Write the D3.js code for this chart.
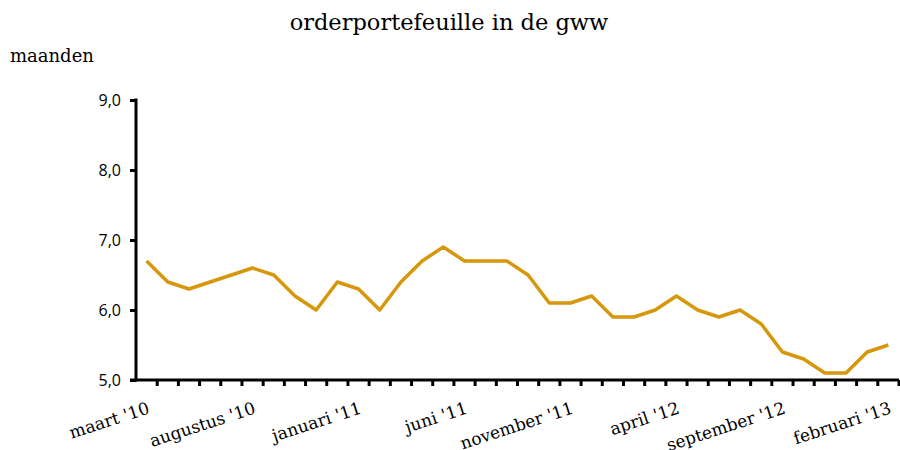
<!DOCTYPE html>
<html>
<head>
<meta charset="utf-8">
<script src="https://cdn.jsdelivr.net/npm/d3@7"></script>
<style>
  body { margin: 0; background: #fff; }
  svg { display: block; }
</style>
</head>
<body>
<div id="chart"></div>
<script>
const months = ["maart '10", "april '10", "mei '10", "juni '10", "juli '10", "augustus '10",
  "september '10", "oktober '10", "november '10", "december '10", "januari '11", "februari '11",
  "maart '11", "april '11", "mei '11", "juni '11", "juli '11", "augustus '11",
  "september '11", "oktober '11", "november '11", "december '11", "januari '12", "februari '12",
  "maart '12", "april '12", "mei '12", "juni '12", "juli '12", "augustus '12",
  "september '12", "oktober '12", "november '12", "december '12", "januari '13", "februari '13"];

const values = [6.7, 6.4, 6.3, 6.4, 6.5, 6.6, 6.5, 6.2, 6.0, 6.4, 6.3, 6.0,
  6.4, 6.7, 6.9, 6.7, 6.7, 6.7, 6.5, 6.1, 6.1, 6.2, 5.9, 5.9,
  6.0, 6.2, 6.0, 5.9, 6.0, 5.8, 5.4, 5.3, 5.1, 5.1, 5.4, 5.5];

const yTicks = [5, 6, 7, 8, 9];

const data = months.map((m, i) => ({ maand: m, waarde: values[i] }));

const margin = {top: 100, right: 1, bottom: 70, left: 136},
      width = 900 - margin.left - margin.right,
      height = 450 - margin.top - margin.bottom;

const root = d3.select("#chart")
  .append("svg")
  .attr("width", 900)
  .attr("height", 450);

root.append("text")
  .attr("x", 449)
  .attr("y", 30)
  .attr("text-anchor", "middle")
  .style("font-family", "'DejaVu Serif', serif")
  .style("font-size", "22.5px")
  .text("orderportefeuille in de gww");

root.append("text")
  .attr("x", 10)
  .attr("y", 62)
  .style("font-family", "'DejaVu Serif', serif")
  .style("font-size", "18px")
  .text("maanden");

const svg = root.append("g")
  .attr("transform", `translate(${margin.left},${margin.top})`);

const x = d3.scaleBand()
  .domain(months)
  .range([0, width]);

const y = d3.scaleLinear()
  .domain([5, 9])
  .range([height, 0]);

// y axis
const yAxis = svg.append("g")
  .call(d3.axisLeft(y)
    .tickValues(yTicks)
    .tickSize(6)
    .tickPadding(9)
    .tickFormat(d => d3.format(".1f")(d).replace(".", ",")));
yAxis.select(".domain").attr("stroke-width", 3).attr("d", `M0,${height + 1.5}V-1.5`);
yAxis.selectAll(".tick line").attr("stroke-width", 3);
yAxis.selectAll(".tick text")
  .style("font-family", "'Open Sans', sans-serif")
  .style("font-size", "16px");

// x axis, ticks on band boundaries
const xAxis = svg.append("g")
  .attr("transform", `translate(0,${height})`);
xAxis.append("line")
  .attr("x1", -6).attr("x2", width)
  .attr("stroke", "#000").attr("stroke-width", 3);
xAxis.selectAll(".btick")
  .data(months)
  .enter()
  .append("line")
  .attr("x1", d => x(d) + x.bandwidth())
  .attr("x2", d => x(d) + x.bandwidth())
  .attr("y1", 0).attr("y2", 6)
  .attr("stroke", "#000").attr("stroke-width", 3);

xAxis.selectAll(".xlabel")
  .data(months.filter((d, i) => i % 5 === 0))
  .enter()
  .append("text")
  .attr("transform", d => `translate(${x(d) + x.bandwidth() / 2 + 4},${33}) rotate(-18)`)
  .attr("text-anchor", "end")
  .style("font-family", "'DejaVu Serif', serif")
  .style("font-size", "17px")
  .text(d => d);

// line
const line = d3.line()
  .x(d => x(d.maand) + x.bandwidth() / 2)
  .y(d => y(d.waarde));

svg.append("path")
  .datum(data)
  .attr("fill", "none")
  .attr("stroke", "#d6970b")
  .attr("stroke-width", 3.5)
  .attr("stroke-linejoin", "round")
  .attr("d", line);
</script>
</body>
</html>
